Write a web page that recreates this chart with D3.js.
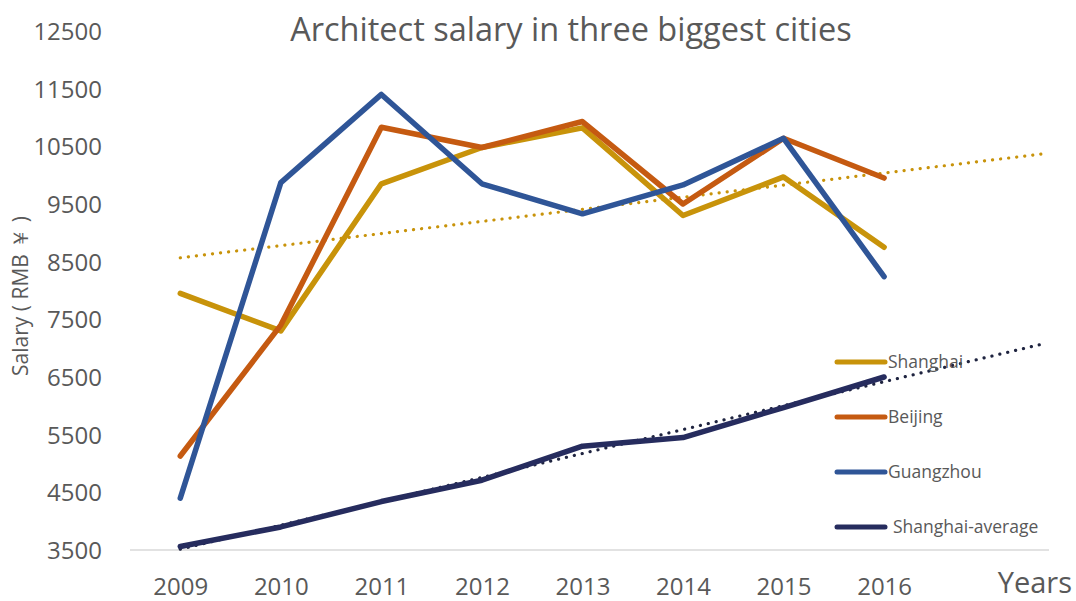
<!DOCTYPE html>
<html>
<head>
<meta charset="utf-8">
<script src="https://cdn.jsdelivr.net/npm/d3@7"></script>
<style>
  html, body { margin: 0; padding: 0; background: #fff; }
  svg { display: block; font-family: "Open Sans", "Noto Sans", sans-serif; }
</style>
</head>
<body>
<svg id="chart" width="1076" height="601"></svg>
<script>
const years = [2009, 2010, 2011, 2012, 2013, 2014, 2015, 2016];
const shanghai = [7950, 7300, 9850, 10480, 10820, 9300, 9970, 8750];
const beijing = [5130, 7400, 10830, 10480, 10930, 9500, 10640, 9950];
const guangzhou = [4400, 9870, 11400, 9850, 9330, 9830, 10640, 8240];
const shanghaiAverage = [3560, 3900, 4340, 4710, 5300, 5450, 5970, 6500];
const yTicks = [3500, 4500, 5500, 6500, 7500, 8500, 9500, 10500, 11500, 12500];
const seriesNames = ["Shanghai", "Beijing", "Guangzhou", "Shanghai-average"];
const colors = ["#C8930A", "#C55A11", "#2F5597", "#262C5E"];

const series = [shanghai, beijing, guangzhou, shanghaiAverage].map((vals, i) => ({
  name: seriesNames[i], color: colors[i], values: vals
}));

const svg = d3.select("#chart");
const x = d3.scaleLinear().domain([2008.5, 2017.64]).range([130, 1049]);
const y = d3.scaleLinear().domain([3500, 12500]).range([550, 31]);

// baseline
svg.append("line").attr("x1", 130).attr("x2", 1049)
  .attr("y1", y(3500)).attr("y2", y(3500))
  .attr("stroke", "#d9d9d9").attr("stroke-width", 1.5);

// y axis labels
const yAxis = d3.axisLeft(y).tickValues(yTicks).tickSize(0).tickPadding(0).tickFormat(d3.format("d"));
const ya = svg.append("g").attr("transform", "translate(102,0)").call(yAxis);
ya.select(".domain").remove();
ya.selectAll("text").attr("font-size", 24).attr("fill", "#595959")
  .attr("font-family", "Open Sans").attr("dy", "0.35em");

// x axis labels
const xAxis = d3.axisBottom(x).tickValues(years).tickSize(0).tickPadding(0).tickFormat(d3.format("d"));
const xa = svg.append("g").attr("transform", "translate(0,578)").call(xAxis);
xa.select(".domain").remove();
xa.selectAll("text").attr("font-size", 24).attr("fill", "#595959")
  .attr("font-family", "Open Sans").attr("dy", "0.71em");

// trendlines (linear regression)
function trend(vals) {
  const xs = vals.map((_, i) => i + 1);
  const mx = d3.mean(xs), my = d3.mean(vals);
  const sxy = d3.sum(xs, (xi, i) => (xi - mx) * (vals[i] - my));
  const sxx = d3.sum(xs, xi => (xi - mx) * (xi - mx));
  const b = sxy / sxx, a = my - b * mx;
  return t => a + b * t;
}
const trendEnd = 9.6;
[[shanghai, colors[0]], [shanghaiAverage, "#1f2440"]].forEach(([vals, c]) => {
  const f = trend(vals);
  svg.append("line")
    .attr("x1", x(years[0])).attr("y1", y(f(1)))
    .attr("x2", x(years[0] + trendEnd - 1)).attr("y2", y(f(trendEnd)))
    .attr("stroke", c).attr("stroke-width", 3.2)
    .attr("stroke-linecap", "round").attr("stroke-dasharray", "0.1 8");
});

// series lines
const line = d3.line().x((d, i) => x(years[i])).y(d => y(d));
[3, 0, 1, 2].forEach(i => {
  const s = series[i];
  svg.append("path").datum(s.values)
    .attr("d", line).attr("fill", "none")
    .attr("stroke", s.color).attr("stroke-width", 5.5)
    .attr("stroke-linejoin", "round").attr("stroke-linecap", "round");
});

// legend
const legY = [362, 417, 472, 527];
const legTextX = [888, 888, 888, 893];
series.forEach((s, i) => {
  svg.append("line").attr("x1", 837).attr("x2", 885)
    .attr("y1", legY[i]).attr("y2", legY[i])
    .attr("stroke", s.color).attr("stroke-width", 5).attr("stroke-linecap", "round");
  svg.append("text").attr("x", legTextX[i]).attr("y", legY[i]).attr("dy", "0.35em")
    .attr("font-size", 17.5).attr("fill", "#595959").text(s.name);
});

// title
svg.append("text").attr("x", 571).attr("y", 41).attr("text-anchor", "middle")
  .attr("font-size", 32.5).attr("fill", "#595959")
  .text("Architect salary in three biggest cities");

// y title
svg.append("text").attr("transform", "translate(28,296) rotate(-90)")
  .attr("text-anchor", "middle").attr("font-size", 21).attr("fill", "#595959")
  .text("Salary ( RMB ￥ )");

// x title
svg.append("text").attr("x", 1072).attr("y", 593).attr("text-anchor", "end")
  .attr("font-size", 29).attr("fill", "#595959").text("Years");
</script>
</body>
</html>
